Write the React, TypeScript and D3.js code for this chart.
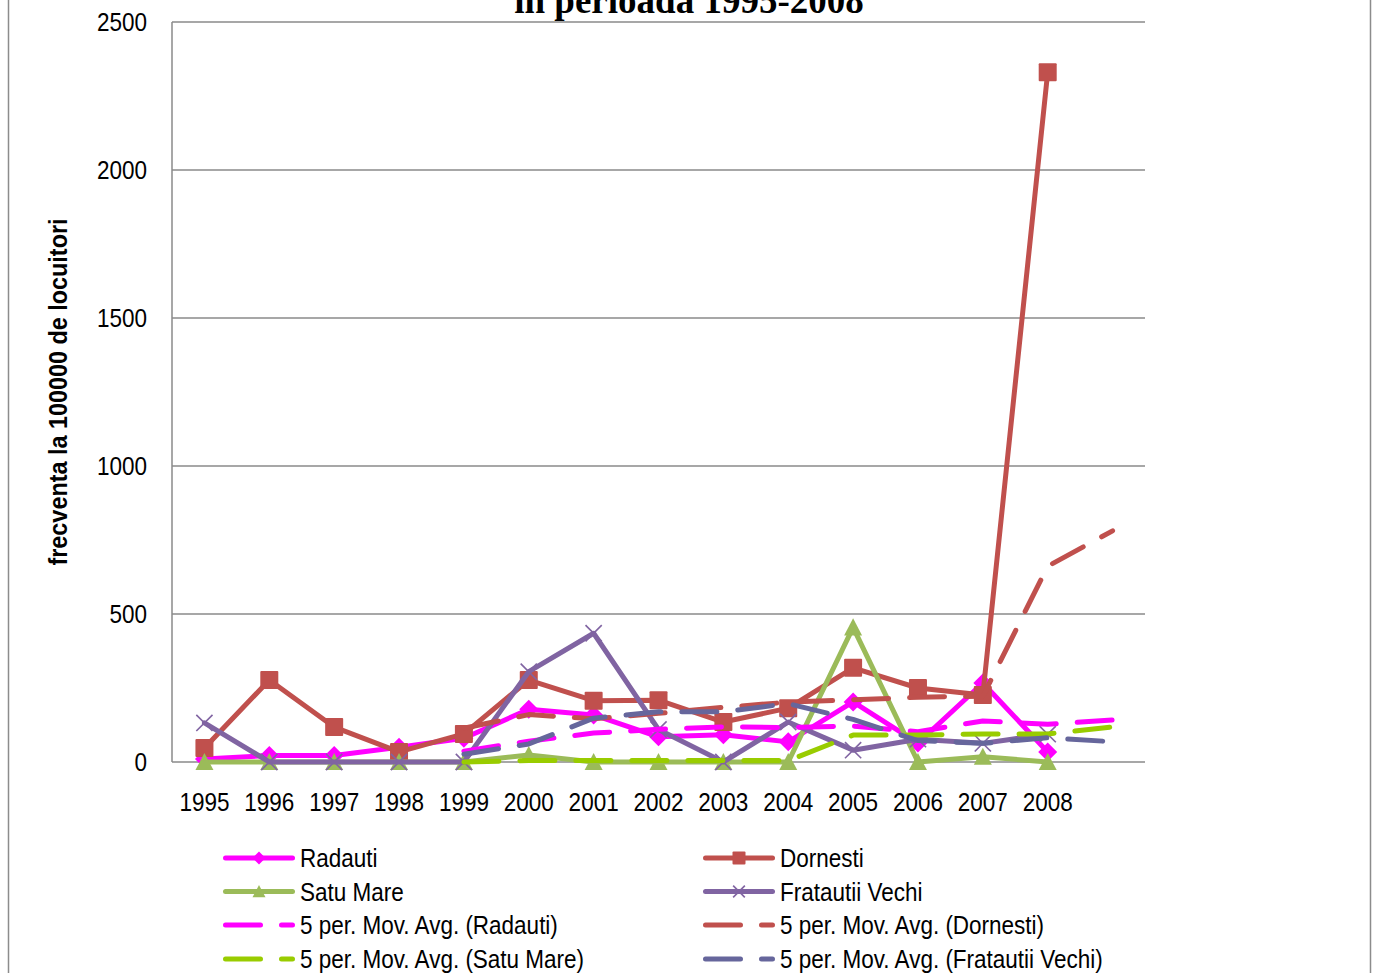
import React from 'react';
import * as d3 from 'd3';

const categories = ['1995', '1996', '1997', '1998', '1999', '2000', '2001', '2002', '2003', '2004', '2005', '2006', '2007', '2008', ''];
const yTicks = [0, 500, 1000, 1500, 2000, 2500];

const radauti = [10, 22, 22, 50, 80, 178, 159, 85, 92, 68, 203, 64, 267, 34];
const dornesti = [47, 277, 118, 34, 95, 277, 207, 209, 135, 182, 318, 250, 226, 2330];
const satuMare = [0, 0, 0, 0, 0, 24, 0, 0, 0, 0, 455, 0, 18, 0];
const frataui = [132, 0, 0, 0, 0, 305, 435, 110, 0, 135, 40, 77, 63, 94];

// 5 per. moving average trendlines, starting at 1999
const maRadauti = [null, null, null, null, 36.8, 70.4, 97.8, 110.4, 118.8, 116.4, 121.4, 102.4, 138.8, 127.2, 142];
const maDornesti = [null, null, null, null, 114.2, 160.2, 146.2, 164.4, 184.6, 202, 210.2, 218.8, 222.2, 661.2, 781];
const maSatuMare = [null, null, null, null, 0, 4.8, 4.8, 4.8, 4.8, 4.8, 91, 91, 94.6, 94.6, 118.3];
const maFrataui = [null, null, null, null, 26.4, 61, 148, 170, 170, 197, 144, 72.4, 63, 81.8, 68.5];

const title = 'in perioada 1995-2008';
const yTitle = 'frecventa la 100000 de locuitori';

const C = {
  radauti: '#FF00FF',
  dornesti: '#C0504D',
  satu: '#9BBB59',
  frat: '#8064A2',
  maSatu: '#99CC00',
  maFrat: '#66669C',
};

const FONT = 'Liberation Sans, Arial, sans-serif';

type MarkerKind = 'diamond' | 'square' | 'triangle' | 'x';

function Marker({ kind, x, y, color, s }: { kind: MarkerKind; x: number; y: number; color: string; s: number }) {
  const r = s / 2;
  if (kind === 'diamond') {
    return <path d={`M${x},${y - r} L${x + r},${y} L${x},${y + r} L${x - r},${y} Z`} fill={color} />;
  }
  if (kind === 'square') {
    return <rect x={x - r} y={y - r} width={s} height={s} fill={color} rx={1} />;
  }
  if (kind === 'triangle') {
    return <path d={`M${x},${y - r} L${x + r},${y + r * 0.9} L${x - r},${y + r * 0.9} Z`} fill={color} />;
  }
  const q = r * 0.9;
  return (
    <g stroke={color} strokeWidth={1.6}>
      <line x1={x - q} y1={y - q} x2={x + q} y2={y + q} />
      <line x1={x - q} y1={y + q} x2={x + q} y2={y - q} />
    </g>
  );
}

export default function App() {
  const left = 172;
  const right = 1145;
  const top = 22;
  const bottom = 762;

  const x = d3.scalePoint<number>().domain(d3.range(categories.length)).range([left, right]).padding(0.5);
  const y = d3.scaleLinear().domain([0, 2500]).range([bottom, top]);

  const line = d3
    .line<number | null>()
    .defined((d) => d != null)
    .x((_, i) => x(i) as number)
    .y((d) => y(d as number));

  const series: { name: string; data: number[]; color: string; marker: MarkerKind; size: number }[] = [
    { name: 'Radauti', data: radauti, color: C.radauti, marker: 'diamond', size: 19 },
    { name: 'Dornesti', data: dornesti, color: C.dornesti, marker: 'square', size: 18 },
    { name: 'Satu Mare', data: satuMare, color: C.satu, marker: 'triangle', size: 18 },
    { name: 'Fratautii Vechi', data: frataui, color: C.frat, marker: 'x', size: 18 },
  ];

  const trends: { name: string; data: (number | null)[]; color: string }[] = [
    { name: '5 per. Mov. Avg. (Radauti)', data: maRadauti, color: C.radauti },
    { name: '5 per. Mov. Avg. (Dornesti)', data: maDornesti, color: C.dornesti },
    { name: '5 per. Mov. Avg. (Satu Mare)', data: maSatuMare, color: C.maSatu },
    { name: '5 per. Mov. Avg. (Fratautii Vechi)', data: maFrataui, color: C.maFrat },
  ];

  const dash = '35 21';

  const legendItems = [
    { col: 0, row: 0, s: series[0] },
    { col: 1, row: 0, s: series[1] },
    { col: 0, row: 1, s: series[2] },
    { col: 1, row: 1, s: series[3] },
  ];
  const legendTrends = [
    { col: 0, row: 2, t: trends[0] },
    { col: 1, row: 2, t: trends[1] },
    { col: 0, row: 3, t: trends[2] },
    { col: 1, row: 3, t: trends[3] },
  ];
  const colX = [223, 703];
  const rowY = [858, 891.5, 925, 959];

  return (
    <svg
      width={1376}
      height={973}
      style={{ position: 'absolute', left: 0, top: 0, background: '#fff' }}
      xmlns="http://www.w3.org/2000/svg"
    >
      <rect x={0} y={0} width={1376} height={973} fill="#fff" />
      {/* chart border */}
      <line x1={8.5} y1={0} x2={8.5} y2={973} stroke="#8c8c8c" strokeWidth={1.5} />
      <line x1={1370.5} y1={0} x2={1370.5} y2={973} stroke="#8c8c8c" strokeWidth={1.5} />

      {/* title */}
      <text x={689} y={13} textAnchor="middle" fontFamily="Liberation Serif, Times New Roman, serif" fontWeight="bold" fontSize={37}>
        {title}
      </text>

      {/* gridlines */}
      {yTicks.map((t) => (
        <line key={t} x1={left} x2={right} y1={y(t)} y2={y(t)} stroke="#8a8a8a" strokeWidth={1.5} />
      ))}
      <line x1={left} x2={left} y1={top} y2={bottom} stroke="#8a8a8a" strokeWidth={1.5} />

      {/* y tick labels */}
      {yTicks.map((t) => (
        <g key={t} transform={`translate(147,${y(t) + 9}) scale(0.9,1)`}>
          <text textAnchor="end" fontFamily={FONT} fontSize={25} fill="#000">
            {t}
          </text>
        </g>
      ))}

      {/* x labels */}
      {categories.map((c, i) =>
        c ? (
          <g key={i} transform={`translate(${x(i)},811) scale(0.9,1)`}>
            <text textAnchor="middle" fontFamily={FONT} fontSize={25} fill="#000">
              {c}
            </text>
          </g>
        ) : null
      )}

      {/* y axis title */}
      <g transform={`translate(67,392) rotate(-90) scale(0.9,1)`}>
        <text textAnchor="middle" fontFamily={FONT} fontWeight="bold" fontSize={26} fill="#000">
          {yTitle}
        </text>
      </g>

      {/* series */}
      {series.map((s) => (
        <g key={s.name}>
          <path d={line(s.data) || ''} fill="none" stroke={s.color} strokeWidth={5} strokeLinejoin="round" strokeLinecap="round" />
          {s.data.map((v, i) => (
            <Marker key={i} kind={s.marker} x={x(i) as number} y={y(v)} color={s.color} s={s.size} />
          ))}
        </g>
      ))}

      {/* trendlines */}
      {trends.map((t) => (
        <path
          key={t.name}
          d={line(t.data) || ''}
          fill="none"
          stroke={t.color}
          strokeWidth={5}
          strokeDasharray={dash}
          strokeLinecap="round"
          strokeLinejoin="round"
        />
      ))}

      {/* legend */}
      {legendItems.map(({ col, row, s }) => {
        const lx = colX[col];
        const ly = rowY[row];
        return (
          <g key={s.name}>
            <line x1={lx + 2.5} x2={lx + 69.5} y1={ly} y2={ly} stroke={s.color} strokeWidth={5} strokeLinecap="round" />
            <Marker kind={s.marker} x={lx + 36} y={ly} color={s.color} s={13} />
            <g transform={`translate(${lx + 77},${ly + 9}) scale(0.9,1)`}>
              <text fontFamily={FONT} fontSize={25} fill="#000">
                {s.name}
              </text>
            </g>
          </g>
        );
      })}
      {legendTrends.map(({ col, row, t }) => {
        const lx = colX[col];
        const ly = rowY[row];
        return (
          <g key={t.name}>
            <line
              x1={lx + 2.5}
              x2={lx + 69.5}
              y1={ly}
              y2={ly}
              stroke={t.color}
              strokeWidth={5}
              strokeLinecap="round"
              strokeDasharray={dash}
            />
            <g transform={`translate(${lx + 77},${ly + 9}) scale(0.9,1)`}>
              <text fontFamily={FONT} fontSize={25} fill="#000">
                {t.name}
              </text>
            </g>
          </g>
        );
      })}
    </svg>
  );
}
